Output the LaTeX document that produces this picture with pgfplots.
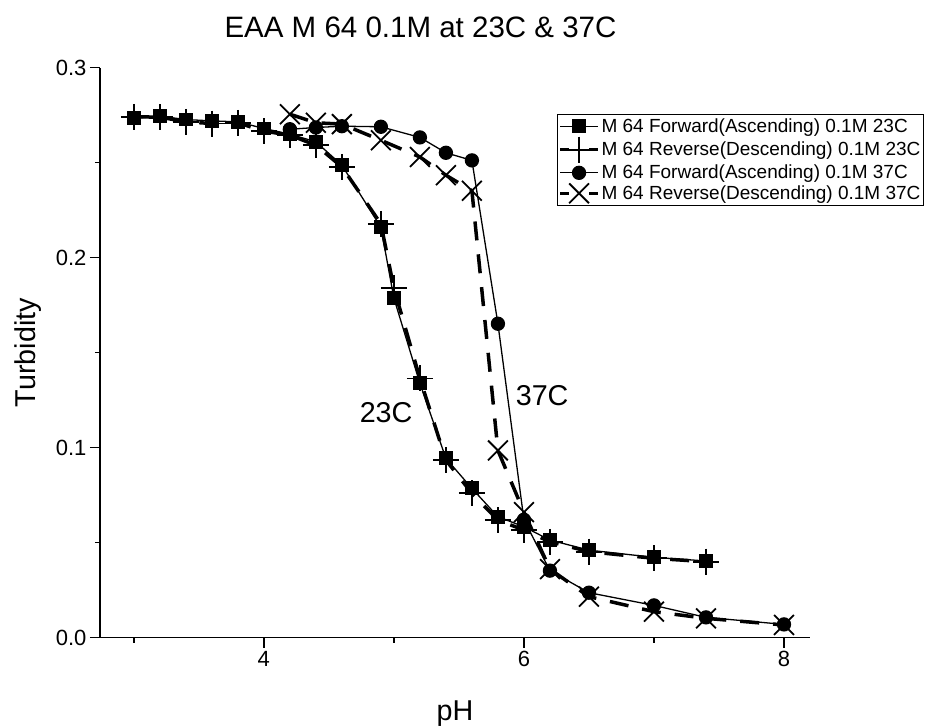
\documentclass[border=0pt]{standalone}
\usepackage{pgfplots}
\pgfplotsset{compat=1.18}
\usepackage{fontspec}
\setmainfont{Liberation Sans}

% turbidity vs pH, forward/reverse titrations
\pgfplotstableread{
ph     fwd23   rev23
3.0    0.2733  0.2741
3.2    0.2745  0.2740
3.4    0.2727  0.2715
3.6    0.2720  0.2706
3.8    0.2715  0.2710
4.0    0.2680  0.2666
4.2    0.2650  0.2645
4.4    0.2610  0.2592
4.6    0.2487  0.2478
4.9    0.2160  0.2178
5.0    0.1787  0.1840
5.2    0.1338  0.1364
5.4    0.0943  0.0934
5.6    0.0785  0.0759
5.8    0.0636  0.0618
6.0    0.0583  0.0566
6.2    0.0513  0.0504
6.5    0.0460  0.0452
7.0    0.0422  0.0417
7.4    0.0403  0.0399
}\dataA

\pgfplotstableread{
ph     fwd37   rev37
4.2    0.2676  0.2755
4.4    0.2685  0.2710
4.6    0.2692  0.2703
4.9    0.2689  0.2618
5.2    0.2633  0.2530
5.4    0.2552  0.2434
5.6    0.2512  0.2352
5.8    0.1652  0.0985
6.0    0.0620  0.0660
6.2    0.0352  0.0360
6.5    0.0236  0.0215
7.0    0.0169  0.0136
7.4    0.0106  0.0101
8.0    0.0069  0.0066
}\dataB

\pgfplotsset{
  revlegend/.style={legend image code/.code={
    \draw[##1, mark=none, line width=3pt, dash pattern=on 9pt off 20pt] (0pt,0pt) -- (38pt,0pt);
    \draw[##1, only marks] plot coordinates {(19pt,0pt)};
  }},
  fwdlegend/.style={legend image code/.code={
    \draw[##1, mark=none] (0pt,0pt) -- (38pt,0pt);
    \draw[##1, only marks] plot coordinates {(19pt,0pt)};
  }},
}

\begin{document}
\begin{tikzpicture}
\path[use as bounding box] (-100pt,-87.5pt) rectangle (828pt,637.5pt);
\begin{axis}[
  at={(0pt,0pt)}, anchor=south west,
  scale only axis, width=710pt, height=569.8pt,
  xmin=2.74, xmax=8.2, ymin=0, ymax=0.3,
  axis x line*=bottom, axis y line*=left,
  axis line style={line width=1.6pt, -},
  xtick={4,6,8}, minor xtick={3,5,7},
  ytick={0,0.1,0.2,0.3}, minor ytick={0.05,0.15,0.25},
  tick align=outside,
  major tick length=10pt, minor tick length=5pt,
  every tick/.style={line width=1.6pt, black},
  tick label style={font=\fontsize{22}{26}\selectfont},
  /pgf/number format/assume math mode=true,
  yticklabel style={/pgf/number format/fixed, /pgf/number format/fixed zerofill,
    /pgf/number format/precision=1},
  scaled y ticks=false,
  xlabel={pH}, ylabel={Turbidity},
  label style={font=\fontsize{28.7}{32}\selectfont},
  xlabel style={at={(axis description cs:0.5,-0.134)}, anchor=center},
  ylabel style={at={(axis description cs:-0.101,0.5)}, anchor=center},
  clip=false,
  legend cell align=left,
  legend style={at={(axis description cs:0.6437,0.9185)}, anchor=north west,
    font=\fontsize{19}{22}\selectfont, draw=black, line width=1pt,
    inner xsep=1pt, inner ysep=1.5pt, row sep=0pt,
    nodes={inner xsep=2pt, inner ysep=2.6pt}},
]
\addplot[black, line width=1.3pt, mark=square*, mark size=6.3pt, fwdlegend]
  table[x=ph, y=fwd23] {\dataA};
\addlegendentry{M 64 Forward(Ascending) 0.1M 23C}
\addplot[black, line width=3.5pt, dash pattern=on 19pt off 14pt, mark=+, mark size=13pt,
  mark options={solid, line width=1.8pt}, revlegend]
  table[x=ph, y=rev23] {\dataA};
\addlegendentry{M 64 Reverse(Descending) 0.1M 23C}
\addplot[black, line width=1.3pt, mark=*, mark size=6.5pt, fwdlegend]
  table[x=ph, y=fwd37] {\dataB};
\addlegendentry{M 64 Forward(Ascending) 0.1M 37C}
\addplot[black, line width=3.5pt, dash pattern=on 19pt off 14pt, mark=x, mark size=14pt,
  mark options={solid, line width=1.8pt}, revlegend]
  table[x=ph, y=rev37] {\dataB};
\addlegendentry{M 64 Reverse(Descending) 0.1M 37C}

\node[font=\fontsize{28.7}{32}\selectfont] at (axis cs:4.94,0.1184) {23C};
\node[font=\fontsize{28.7}{32}\selectfont] at (axis cs:6.14,0.1274) {37C};
\end{axis}
\node[anchor=base west, font=\fontsize{29.5}{34}\selectfont] at (121pt,599.5pt)
  {EAA M 64 0.1M at 23C \& 37C};
\end{tikzpicture}
\end{document}
